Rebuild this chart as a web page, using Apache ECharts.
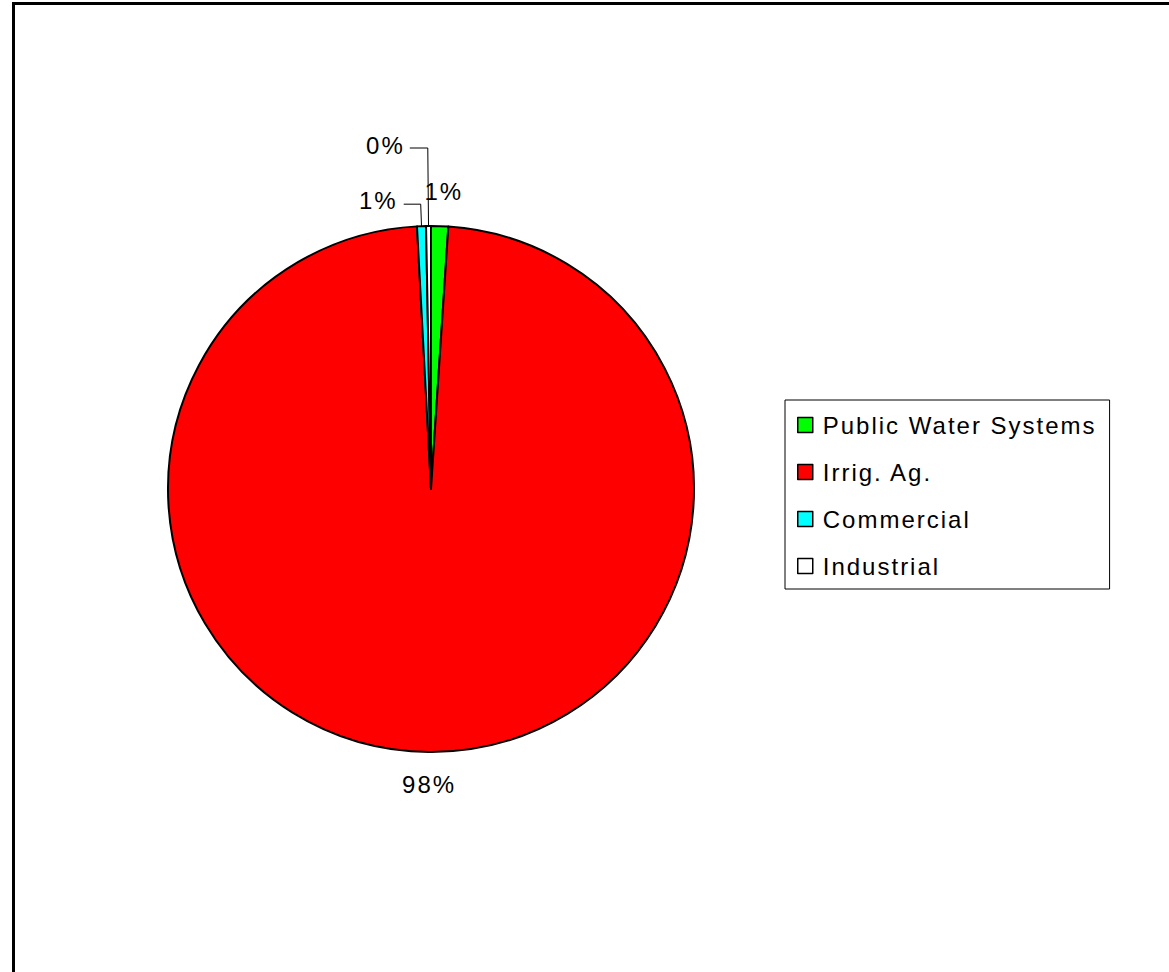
<!DOCTYPE html>
<html>
<head>
<meta charset="utf-8">
<style>
  html, body { margin: 0; padding: 0; background: #ffffff; overflow: hidden; }
  #chart { width: 1169px; height: 972px; }
  #chart svg text { letter-spacing: 2px; }
</style>
<script src="https://cdn.jsdelivr.net/npm/echarts@6/dist/echarts.min.js"></script>
</head>
<body>
<div id="chart"></div>
<script>
// ---- Data ----
const categories = ['Public Water Systems', 'Irrig. Ag.', 'Commercial', 'Industrial'];
const shares = [1.05, 98.1, 0.55, 0.3];
const sliceColors = ['#00ff00', '#ff0000', '#00ffff', '#ffffff'];

// per-slice label placement (leader line lengths)
const labelLineLen = [35, 33, 22, 78];
const labelLineLen2 = [0, 0, 17, 18];
const labelLineShow = [false, false, true, true];
const labelDist = [3, 0, 6, 5];
const labelShiftY = [0, 0, -4, -3];

const FONT = 'Arial, "Liberation Sans", sans-serif';

const chart = echarts.init(document.getElementById('chart'), null, { renderer: 'svg' });

const data = categories.map((name, i) => ({
  name: name,
  value: shares[i],
  itemStyle: { color: sliceColors[i] },
  label: { distanceToLabelLine: labelDist[i] },
  labelLine: { show: labelLineShow[i], length: labelLineLen[i], length2: labelLineLen2[i] }
}));

chart.setOption({
  animation: false,
  backgroundColor: '#ffffff',
  graphic: [{
    type: 'rect',
    shape: { x: 13.5, y: 3.5, width: 1300, height: 1100 },
    style: { fill: 'none', stroke: '#000000', lineWidth: 3 },
    silent: true
  }],
  legend: {
    orient: 'vertical',
    left: 785,
    top: 400,
    data: categories,
    itemWidth: 15,
    itemHeight: 15,
    itemGap: 23,
    padding: [13, 53, 11, 12],
    borderColor: '#000000',
    borderWidth: 1,
    icon: 'rect',
    itemStyle: { borderColor: '#000000', borderWidth: 1.5 },
    textStyle: { fontFamily: FONT, fontSize: 24, color: '#000000', lineHeight: 24, padding: [0, 0, 0, 5] },
    selectedMode: false
  },
  series: [{
    type: 'pie',
    center: [431, 489],
    radius: 263,
    startAngle: 90,
    clockwise: true,
    avoidLabelOverlap: false,
    percentPrecision: 0,
    itemStyle: { borderColor: '#000000', borderWidth: 2 },
    label: {
      show: true,
      position: 'outside',
      formatter: '{d}%',
      fontFamily: FONT,
      fontSize: 24,
      color: '#000000'
    },
    labelLine: {
      lineStyle: { color: '#000000', width: 1 },
      minTurnAngle: 0,
      maxSurfaceAngle: 180
    },
    labelLayout: function (params) {
      const i = params.dataIndex;
      const res = { dy: labelShiftY[i] };
      if (i === 0 || i === 1) {
        res.align = 'center';
      }
      return res;
    },
    emphasis: { disabled: true },
    data: data
  }]
});
</script>
</body>
</html>
